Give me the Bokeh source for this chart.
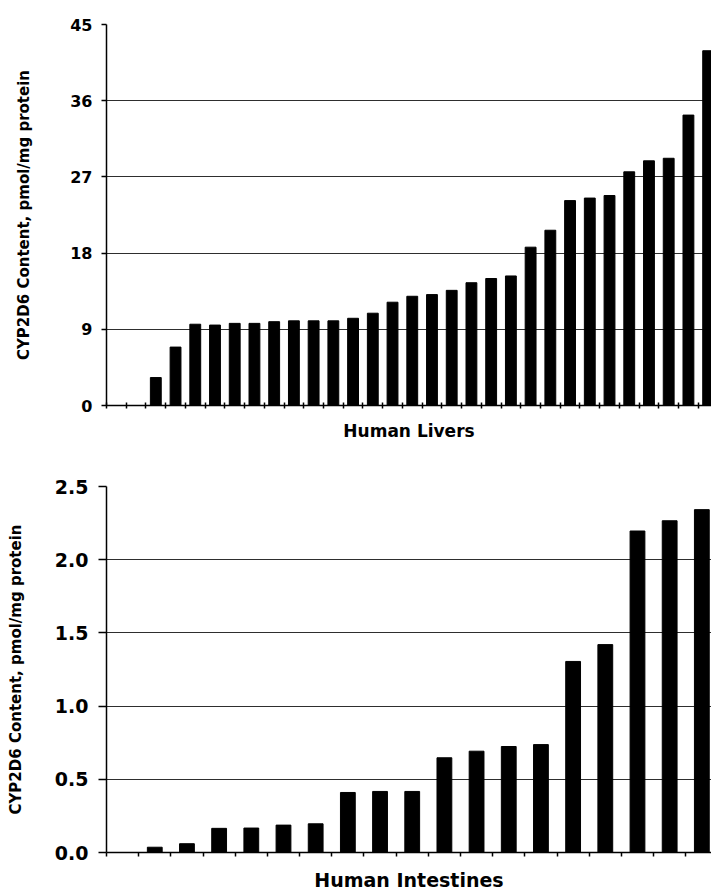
from bokeh.plotting import figure
from bokeh.layouts import column
from bokeh.models import FixedTicker, PrintfTickFormatter, Range1d
from bokeh.embed import file_html
from bokeh.resources import INLINE

# ---- data ----
liver_values = [0, 0, 3.3, 6.9, 9.6, 9.5, 9.7, 9.7, 9.9, 10.0, 10.0, 10.0, 10.3,
                10.9, 12.2, 12.9, 13.1, 13.6, 14.5, 15.0, 15.3, 18.7, 20.7,
                24.2, 24.5, 24.8, 27.6, 28.9, 29.2, 34.3, 41.9]
liver_ticks = [0, 9, 18, 27, 36, 45]

intestine_values = [0, 0.036, 0.06, 0.165, 0.167, 0.187, 0.196, 0.41, 0.417,
                    0.417, 0.647, 0.692, 0.724, 0.737, 1.305, 1.42, 2.196,
                    2.266, 2.342]
intestine_ticks = [0.0, 0.5, 1.0, 1.5, 2.0, 2.5]

y_title = "CYP2D6 Content, pmol/mg protein"
FONT = "DejaVu Sans"


def make_panel(values, yticks, xtitle, width, height, x_end, bar_w,
               border_left, border_top, border_bottom, fmt,
               tick_font, xtitle_font, xt_in, xt_out, xlabel_standoff,
               yt_out, ylabel_standoff, ytitle_standoff):
    n = len(values)
    p = figure(width=width, height=height, output_backend="svg",
               toolbar_location=None,
               x_range=Range1d(0, x_end), y_range=Range1d(0, yticks[-1]),
               min_border_left=border_left, min_border_right=0,
               min_border_top=border_top, min_border_bottom=border_bottom)
    p.outline_line_color = None
    p.background_fill_color = "white"
    p.border_fill_color = "white"
    p.xgrid.grid_line_color = None
    p.ygrid.grid_line_color = "#2e2e2e"
    p.ygrid.grid_line_width = 1
    p.ygrid.ticker = FixedTicker(ticks=yticks)

    xs = [i + 0.5 for i in range(n)]
    p.vbar(x=xs, top=values, width=bar_w, fill_color="black",
           line_color="black")

    # x axis (ticks at category boundaries, no tick labels)
    xa = p.xaxis[0]
    xt = list(range(0, n + 1))
    xa.ticker = FixedTicker(ticks=xt)
    xa.major_label_overrides = {t: "" for t in xt}
    xa.major_label_standoff = 0
    xa.major_tick_in = xt_in
    xa.major_tick_out = xt_out
    xa.minor_tick_line_color = None
    xa.axis_line_color = "black"
    xa.axis_line_width = 1.5
    xa.major_tick_line_width = 1.5
    xa.axis_label = xtitle
    xa.axis_label_text_font = FONT
    xa.axis_label_text_font_style = "bold"
    xa.axis_label_text_font_size = xtitle_font
    xa.axis_label_text_color = "black"
    xa.axis_label_standoff = xlabel_standoff

    # y axis
    ya = p.yaxis[0]
    ya.ticker = FixedTicker(ticks=yticks)
    ya.formatter = PrintfTickFormatter(format=fmt)
    ya.major_label_text_font = FONT
    ya.major_label_text_font_style = "bold"
    ya.major_label_text_font_size = tick_font
    ya.major_label_text_color = "black"
    ya.major_label_standoff = ylabel_standoff
    ya.major_tick_in = 0
    ya.major_tick_out = yt_out
    ya.major_tick_line_width = 1.5
    ya.minor_tick_line_color = None
    ya.axis_line_color = "black"
    ya.axis_line_width = 1.5
    ya.axis_label = y_title
    ya.axis_label_text_font = FONT
    ya.axis_label_text_font_style = "bold"
    ya.axis_label_text_font_size = "15px"
    ya.axis_label_text_color = "black"
    ya.axis_label_standoff = ytitle_standoff
    return p


p1 = make_panel(liver_values, liver_ticks, "Human Livers", 711, 447, 30.67,
                0.55, 101, 24, 42, "%d", "16px", "17px", 3, 3, 12, 5, 9, 34)
p2 = make_panel(intestine_values, intestine_ticks, "Human Intestines", 711, 446,
                18.8, 0.46, 106, 39, 40, "%.1f", "19px", "19px", 0, 4, 12, 8, 10, 27)

layout = column(p1, p2, spacing=0)
open("out.html", "w").write(file_html(layout, INLINE))
